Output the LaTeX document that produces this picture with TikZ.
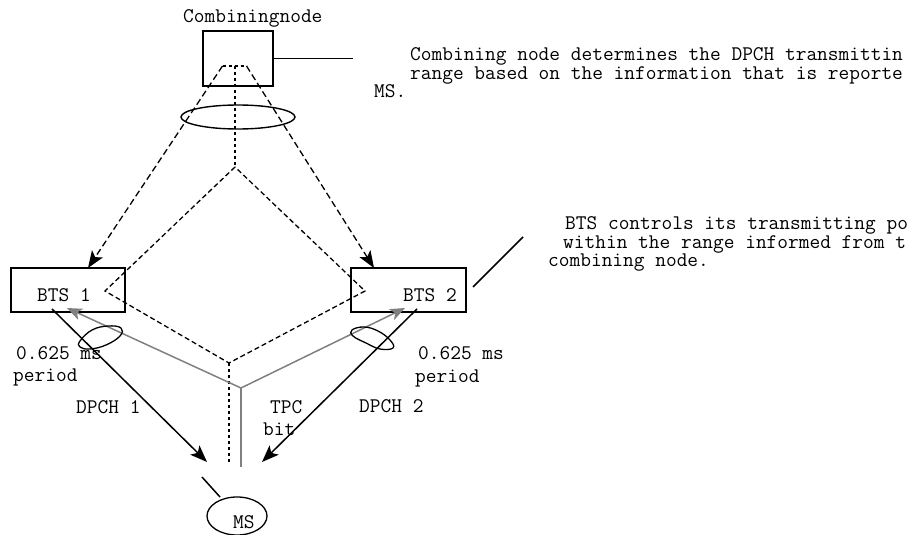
\documentclass[tikz,border=0pt]{standalone}
\usepackage{fontspec}
\usetikzlibrary{arrows.meta,shapes.geometric}
\begin{document}
\begin{tikzpicture}[x=1pt,y=-1pt,
  txt/.style={font=\ttfamily\fontsize{20.8}{17}\selectfont, inner sep=0pt, anchor=base west},
  mtxt/.style={font=\ttfamily\fontsize{20.8}{17}\selectfont, inner sep=0pt, anchor=north west, align=left},
  box/.style={draw, line width=1.4pt, inner sep=0pt},
  dsh/.style={line width=1.3pt, dash pattern=on 6.5pt off 3.5pt},
  dsh2/.style={line width=1.3pt, dash pattern=on 5pt off 3pt},
  dotl/.style={line width=1.5pt, dash pattern=on 3pt off 3pt},
  arr/.style={-{Stealth[length=17pt,width=13pt,inset=4pt]}},
  garr/.style={-{Stealth[length=15pt,width=12pt,inset=4pt]}},
  gr/.style={draw={rgb,255:red,128;green,128;blue,128}, line width=1.5pt},
  sol/.style={line width=1.5pt}
]
\useasboundingbox (0,0) rectangle (913,535);

% nodes
\node[box, minimum width=70pt, minimum height=55pt] (cn) at (238,58.5) {};
\node[box, minimum width=114pt, minimum height=44pt] (b1) at (68,290) {};
\node[box, minimum width=115pt, minimum height=44pt] (b2) at (408.5,290) {};
\node[draw, ellipse, line width=1.3pt, minimum width=60pt, minimum height=38pt, inner sep=0pt] (ms) at (237,516) {};
\node[draw, ellipse, line width=1.4pt, minimum width=114pt, minimum height=24pt, inner sep=0pt] (ring) at (238,117) {};

% texts
\node[txt] (tcn) at (183,23) {Combiningnode};
\node[txt] (tb1) at (37,301.5) {BTS 1};
\node[txt] (tb2) at (403,301.5) {BTS 2};
\node[txt] (tms) at (233,528) {MS};
\node[txt] (p1a) at (16,359) {0.625 ms};
\node[txt] (p1b) at (13,381) {period};
\node[txt] (p2a) at (418,359) {0.625 ms};
\node[txt] (p2b) at (415,382) {period};
\node[txt] (d1) at (76,413) {DPCH 1};
\node[txt] (d2) at (359,412) {DPCH 2};
\node[txt] (tpc) at (270,413) {TPC};
\node[txt] (bit) at (263,435) {bit};
\node[mtxt] (note1) at (374,47.5) {\hspace*{36pt}Combining node determines the DPCH transmittin\\\hspace*{36pt}range based on the information that is reporte\\MS.};
\node[mtxt] (note2) at (548,216.5) {\hspace*{17pt}BTS controls its transmitting po\\\hspace*{15pt}within the range informed from t\\combining node.};

% coordinates
\coordinate (ce) at (353,58.5);
\coordinate (la) at (473,287);
\coordinate (lb) at (523,237);
\coordinate (ma) at (202,477);
\coordinate (mb) at (220,497);
\coordinate (tl) at (222.5,66);
\coordinate (tr) at (246.5,66);
\coordinate (tc) at (235,66);
\coordinate (dtop) at (235,167);
\coordinate (dl) at (105,291);
\coordinate (dr) at (365,291);
\coordinate (dbot) at (229,363);
\coordinate (dend) at (229,464);
\coordinate (a1) at (88,268);
\coordinate (a2) at (374,268);
\coordinate (g0) at (241,388);
\coordinate (gend) at (241,467);
\coordinate (g1) at (67,308);
\coordinate (g2) at (405,308);
\coordinate (s1) at (52,309);
\coordinate (s2) at (417,309);
\coordinate (e1) at (207,462);
\coordinate (e2) at (262,462);

% callout lines
\draw[sol] (cn.east) -- (ce);
\draw[sol] (la) -- (lb);
\draw[sol] (ma) -- (mb);

% combining node dashed paths
\draw[dsh, arr] (tl) -- (a1);
\draw[dsh, arr] (tr) -- (a2);
\draw[dotl] (tl) -- (tr);
\draw[dotl] (tc) -- (dtop);
\draw[dsh2] (dtop) -- (dl) -- (dbot) -- (dr) -- cycle;
\draw[dotl] (dbot) -- (dend);

% TPC (gray)
\draw[gr] (gend) -- (g0);
\draw[gr, garr] (g0) -- (g1);
\draw[gr, garr] (g0) -- (g2);

% DPCH (black)
\draw[sol, arr] (s1) -- (e1);
\draw[sol, arr] (s2) -- (e2);

% loops
\draw[line width=1.3pt] plot[smooth cycle, tension=0.7] coordinates {(80,341) (92,330) (108,326) (121,328) (120,336) (106,345) (90,349) (80,347)};
\draw[line width=1.3pt] plot[smooth cycle, tension=0.7] coordinates {(352,330) (364,327) (378,331) (390,340) (393,348) (380,349) (366,343) (353,336)};
\end{tikzpicture}
\end{document}
